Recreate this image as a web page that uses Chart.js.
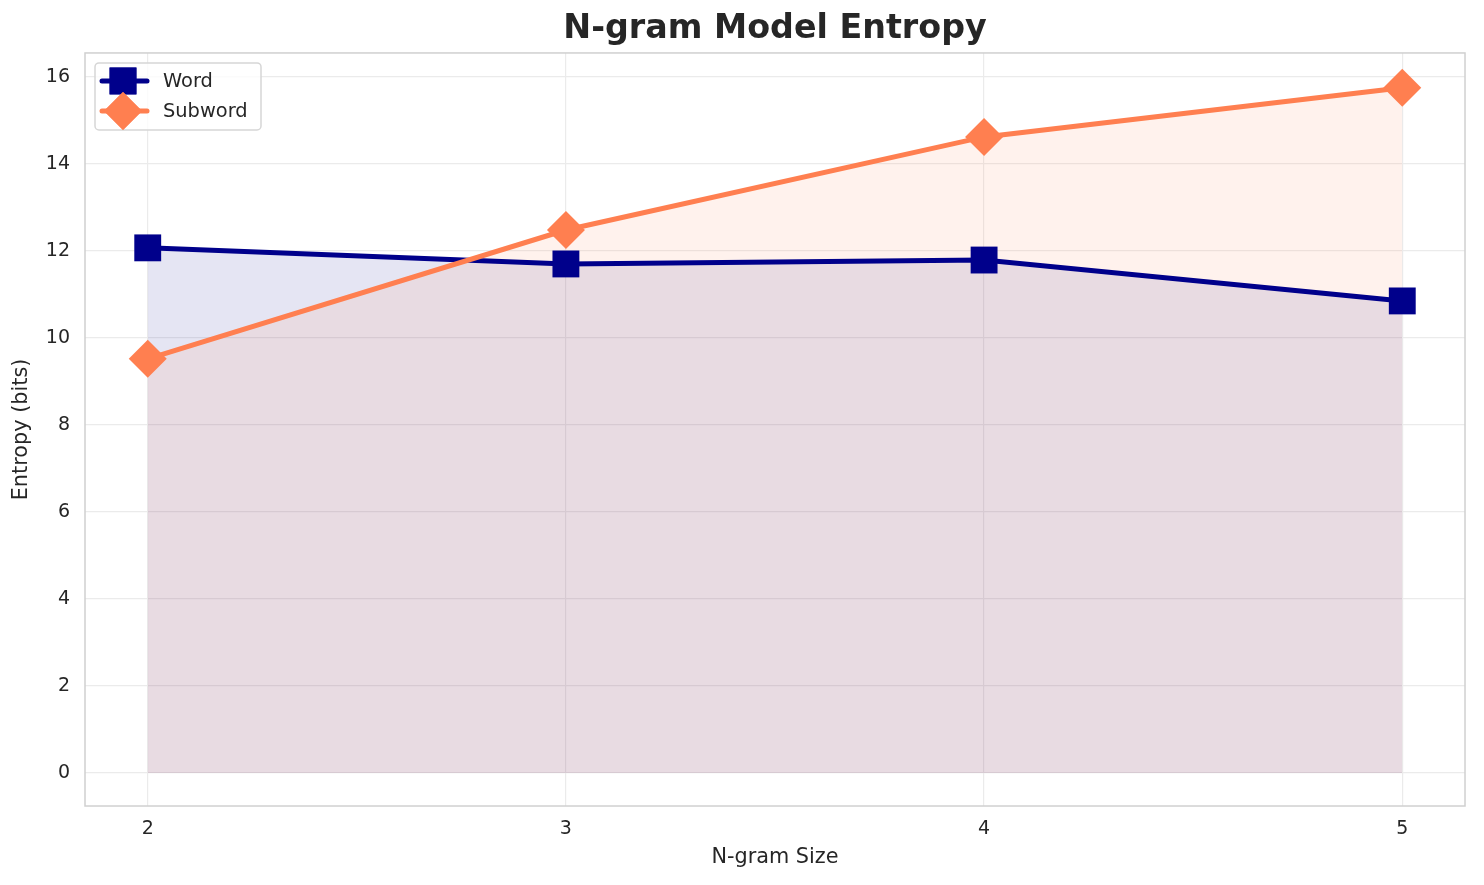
<!DOCTYPE html>
<html>
<head>
<meta charset="utf-8">
<script src="https://cdn.jsdelivr.net/npm/chart.js@4.4.0/dist/chart.umd.min.js"></script>
<style>
  html, body { margin: 0; padding: 0; background: #fff; }
  #wrap { width: 1484px; height: 885px; }
</style>
</head>
<body>
<div id="wrap"><canvas id="entropyChart" width="1484" height="885"></canvas></div>
<script>
const ngramSizes = [2, 3, 4, 5];
const wordEntropy = [12.07, 11.70, 11.79, 10.85];
const subwordEntropy = [9.52, 12.48, 14.62, 15.75];
const yTicks = [0, 2, 4, 6, 8, 10, 12, 14, 16];

const FONT = "'DejaVu Sans', sans-serif";
const TEXT = '#262626';
const WORD_COLOR = '#00008b';
const SUB_COLOR = '#ff7f50';

// frame round the plot area + the legend box in the top left corner
const framePlugin = {
  id: 'frame',
  afterDraw(chart) {
    const ctx = chart.ctx;
    const a = chart.chartArea;
    ctx.save();
    ctx.strokeStyle = '#d0d0d0';
    ctx.lineWidth = 1.5;
    ctx.strokeRect(a.left, a.top, a.right - a.left, a.bottom - a.top);

    const bx = a.left + 10, by = a.top + 10, bw = 166, bh = 67;
    ctx.beginPath();
    ctx.roundRect(bx, by, bw, bh, 4);
    ctx.fillStyle = 'rgba(255,255,255,0.8)';
    ctx.fill();
    ctx.strokeStyle = '#d6d6d6';
    ctx.lineWidth = 1.5;
    ctx.stroke();

    const rows = [
      { label: chart.data.datasets[0].label, color: WORD_COLOR, style: 'rect' },
      { label: chart.data.datasets[1].label, color: SUB_COLOR, style: 'rectRot' }
    ];
    rows.forEach(function(r, i) {
      const cy = by + 18 + i * 30;
      const cx = bx + 28;
      ctx.strokeStyle = r.color;
      ctx.lineWidth = 5;
      ctx.lineCap = 'round';
      ctx.beginPath();
      ctx.moveTo(bx + 7, cy);
      ctx.lineTo(bx + 52, cy);
      ctx.stroke();
      ctx.fillStyle = r.color;
      Chart.helpers.drawPoint(ctx, { pointStyle: r.style, radius: 19, borderWidth: 0 }, cx, cy);
      ctx.fill();
      ctx.fillStyle = TEXT;
      ctx.font = '19.4px ' + FONT;
      ctx.textBaseline = 'middle';
      ctx.textAlign = 'left';
      ctx.fillText(r.label, bx + 68, cy + 1);
    });
    ctx.restore();
  }
};

new Chart(document.getElementById('entropyChart'), {
  type: 'line',
  data: {
    datasets: [
      {
        label: 'Word',
        data: ngramSizes.map(function(x, i) { return { x: x, y: wordEntropy[i] }; }),
        borderColor: WORD_COLOR,
        backgroundColor: 'rgba(0,0,139,0.1)',
        borderWidth: 5,
        fill: 'origin',
        tension: 0,
        pointStyle: 'rect',
        pointRadius: 19,
        pointBorderWidth: 0,
        pointBackgroundColor: WORD_COLOR,
        order: 1
      },
      {
        label: 'Subword',
        data: ngramSizes.map(function(x, i) { return { x: x, y: subwordEntropy[i] }; }),
        borderColor: SUB_COLOR,
        backgroundColor: 'rgba(255,127,80,0.1)',
        borderWidth: 5,
        fill: 'origin',
        tension: 0,
        pointStyle: 'rectRot',
        pointRadius: 19,
        pointBorderWidth: 0,
        pointBackgroundColor: SUB_COLOR,
        order: 0
      }
    ]
  },
  options: {
    responsive: false,
    animation: false,
    layout: { padding: { left: 0, right: 15, top: 0, bottom: 0 } },
    plugins: {
      legend: { display: false },
      tooltip: { enabled: false },
      filler: { drawTime: 'beforeDatasetsDraw' },
      title: {
        display: true,
        fullSize: false,
        text: 'N-gram Model Entropy',
        color: TEXT,
        font: { family: FONT, size: 33.3, weight: 'bold' },
        padding: { top: 9, bottom: 4 }
      }
    },
    scales: {
      x: {
        type: 'linear',
        min: 1.85,
        max: 5.15,
        afterFit: function(scale) { scale.height = 79; },
        afterBuildTicks: function(scale) {
          scale.ticks = ngramSizes.map(function(v) { return { value: v }; });
        },
        ticks: {
          color: TEXT,
          font: { family: FONT, size: 19 },
          padding: 12
        },
        grid: { color: '#ebebeb', lineWidth: 1.2, drawTicks: false },
        border: { display: false },
        title: {
          display: true,
          text: 'N-gram Size',
          color: TEXT,
          font: { family: FONT, size: 20.8 },
          padding: { top: 0, bottom: 14.5 }
        }
      },
      y: {
        min: -0.76,
        max: 16.55,
        afterFit: function(scale) { scale.width = 85; },
        afterBuildTicks: function(scale) {
          scale.ticks = yTicks.map(function(v) { return { value: v }; });
        },
        ticks: {
          color: TEXT,
          font: { family: FONT, size: 19 },
          padding: 15
        },
        grid: { color: '#ebebeb', lineWidth: 1.2, drawTicks: false },
        border: { display: false },
        title: {
          display: true,
          text: 'Entropy (bits)',
          color: TEXT,
          font: { family: FONT, size: 20.8 },
          padding: { top: 9.5, bottom: 9.5 }
        }
      }
    }
  },
  plugins: [framePlugin]
});
</script>
</body>
</html>
